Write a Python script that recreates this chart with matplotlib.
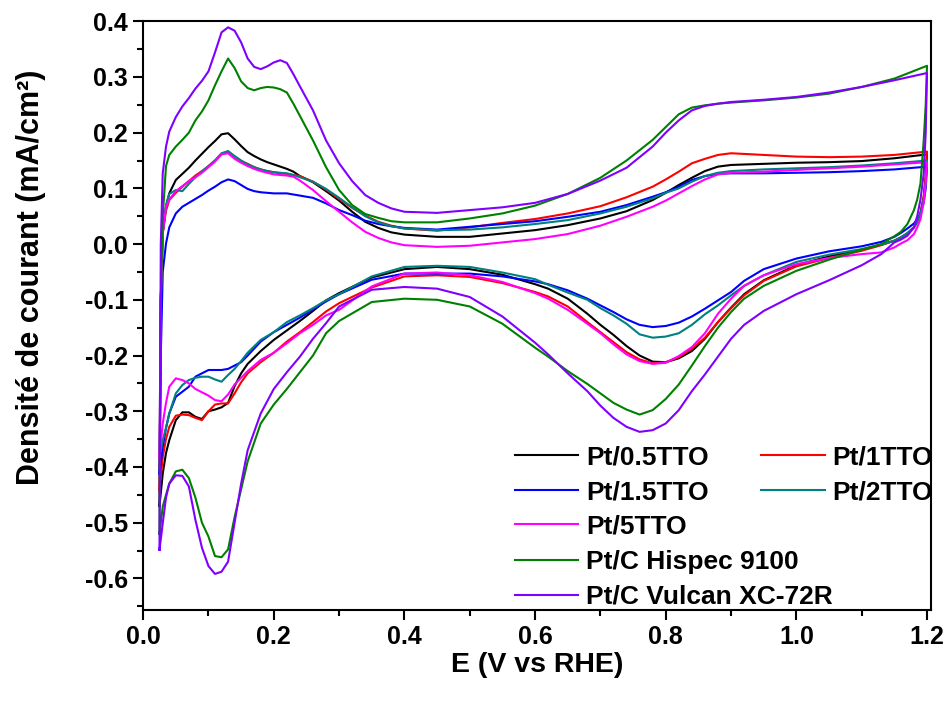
import matplotlib
matplotlib.use("Agg")
import matplotlib.pyplot as plt
import matplotlib.ticker as tkr

plt.rcParams["font.family"] = ["Liberation Sans", "DejaVu Sans"]
plt.rcParams["font.weight"] = "bold"

# DATA

# anodic sweep potentials (V vs RHE)
E_FWD = [0.025, 0.027, 0.030, 0.035, 0.040, 0.050, 0.060, 0.070, 0.080, 0.090,
         0.100, 0.110, 0.120, 0.130, 0.140, 0.150, 0.160, 0.170, 0.180, 0.190,
         0.200, 0.210, 0.220, 0.230, 0.240, 0.260, 0.280, 0.300, 0.320, 0.340,
         0.360, 0.380, 0.400, 0.450, 0.500, 0.550, 0.600, 0.650, 0.700, 0.740,
         0.780, 0.800, 0.820, 0.840, 0.860, 0.880, 0.900, 0.950, 1.000, 1.050,
         1.100, 1.150, 1.200]

# cathodic sweep potentials
E_REV = [1.200, 1.198, 1.195, 1.190, 1.185, 1.180, 1.170, 1.160, 1.150, 1.130,
         1.100, 1.050, 1.000, 0.950, 0.920, 0.900, 0.880, 0.860, 0.840, 0.820,
         0.800, 0.780, 0.760, 0.740, 0.720, 0.700, 0.680, 0.650, 0.620, 0.600,
         0.550, 0.500, 0.450, 0.400, 0.350, 0.300, 0.280, 0.260, 0.240, 0.220,
         0.200, 0.180, 0.160, 0.150, 0.140, 0.130, 0.120, 0.110, 0.100, 0.090,
         0.080, 0.070, 0.060, 0.050, 0.040, 0.035, 0.030, 0.025]

labels = ["Pt/0.5TTO", "Pt/1TTO", "Pt/1.5TTO", "Pt/2TTO", "Pt/5TTO",
          "Pt/C Hispec 9100", "Pt/C Vulcan XC-72R"]

j_fwd_05 = [-0.470, -0.100, 0.020, 0.067, 0.091, 0.115, 0.126, 0.137, 0.150, 0.162,
            0.174, 0.185, 0.197, 0.199, 0.188, 0.176, 0.165, 0.158, 0.152, 0.147,
            0.143, 0.139, 0.135, 0.130, 0.122, 0.111, 0.095, 0.078, 0.058, 0.040,
            0.029, 0.021, 0.017, 0.013, 0.013, 0.019, 0.025, 0.034, 0.046, 0.059,
            0.079, 0.092, 0.106, 0.119, 0.131, 0.139, 0.142, 0.144, 0.146, 0.147,
            0.149, 0.154, 0.161]
j_rev_05 = [0.161, 0.120, 0.085, 0.055, 0.040, 0.030, 0.019, 0.012, 0.006, -0.001,
            -0.010, -0.022, -0.038, -0.065, -0.090, -0.114, -0.140, -0.170, -0.192, -0.205,
            -0.212, -0.211, -0.200, -0.183, -0.163, -0.145, -0.125, -0.098, -0.080, -0.072,
            -0.055, -0.045, -0.041, -0.045, -0.060, -0.088, -0.101, -0.120, -0.138, -0.155,
            -0.172, -0.192, -0.215, -0.232, -0.255, -0.285, -0.293, -0.297, -0.300, -0.314,
            -0.310, -0.302, -0.302, -0.316, -0.352, -0.375, -0.412, -0.470]

j_fwd_1 = [-0.442, -0.100, 0.020, 0.060, 0.079, 0.092, 0.103, 0.113, 0.123, 0.131,
           0.140, 0.150, 0.162, 0.165, 0.157, 0.149, 0.144, 0.138, 0.134, 0.131,
           0.129, 0.127, 0.126, 0.124, 0.122, 0.112, 0.098, 0.081, 0.065, 0.051,
           0.040, 0.033, 0.028, 0.024, 0.030, 0.038, 0.045, 0.055, 0.068, 0.084,
           0.103, 0.116, 0.130, 0.145, 0.153, 0.160, 0.163, 0.160, 0.157, 0.156,
           0.157, 0.160, 0.166]
j_rev_1 = [0.166, 0.120, 0.085, 0.055, 0.040, 0.030, 0.019, 0.012, 0.006, -0.002,
           -0.012, -0.025, -0.040, -0.066, -0.092, -0.115, -0.140, -0.168, -0.188, -0.203,
           -0.212, -0.214, -0.207, -0.194, -0.176, -0.158, -0.140, -0.112, -0.094, -0.086,
           -0.070, -0.059, -0.056, -0.058, -0.078, -0.106, -0.121, -0.140, -0.158, -0.175,
           -0.195, -0.212, -0.232, -0.248, -0.268, -0.286, -0.286, -0.288, -0.300, -0.316,
           -0.312, -0.307, -0.306, -0.308, -0.328, -0.350, -0.382, -0.442]

j_fwd_15 = [-0.412, -0.200, -0.050, 0.001, 0.030, 0.055, 0.067, 0.074, 0.081, 0.088,
            0.096, 0.103, 0.111, 0.116, 0.113, 0.106, 0.099, 0.095, 0.093, 0.092,
            0.091, 0.091, 0.091, 0.089, 0.087, 0.083, 0.073, 0.061, 0.052, 0.042,
            0.036, 0.032, 0.029, 0.026, 0.031, 0.036, 0.041, 0.049, 0.058, 0.070,
            0.085, 0.093, 0.103, 0.115, 0.122, 0.126, 0.127, 0.127, 0.128, 0.129,
            0.131, 0.134, 0.139]
j_rev_15 = [0.139, 0.100, 0.075, 0.055, 0.045, 0.037, 0.028, 0.020, 0.013, 0.004,
            -0.004, -0.013, -0.026, -0.045, -0.066, -0.086, -0.101, -0.116, -0.130, -0.141,
            -0.147, -0.149, -0.145, -0.135, -0.122, -0.110, -0.098, -0.083, -0.072, -0.067,
            -0.058, -0.053, -0.053, -0.053, -0.064, -0.090, -0.103, -0.117, -0.132, -0.145,
            -0.158, -0.175, -0.200, -0.212, -0.218, -0.224, -0.226, -0.226, -0.226, -0.232,
            -0.238, -0.256, -0.265, -0.274, -0.304, -0.330, -0.364, -0.412]

j_fwd_2 = [-0.382, -0.100, 0.020, 0.070, 0.090, 0.097, 0.095, 0.108, 0.120, 0.130,
           0.140, 0.150, 0.163, 0.167, 0.158, 0.150, 0.143, 0.138, 0.134, 0.131,
           0.129, 0.128, 0.127, 0.124, 0.120, 0.112, 0.099, 0.083, 0.066, 0.050,
           0.039, 0.032, 0.028, 0.025, 0.026, 0.030, 0.036, 0.043, 0.055, 0.067,
           0.082, 0.092, 0.100, 0.112, 0.122, 0.128, 0.131, 0.134, 0.136, 0.138,
           0.141, 0.145, 0.150]
j_rev_2 = [0.150, 0.110, 0.080, 0.055, 0.040, 0.030, 0.020, 0.012, 0.006, -0.001,
           -0.009, -0.019, -0.032, -0.056, -0.075, -0.092, -0.110, -0.126, -0.145, -0.160,
           -0.166, -0.168, -0.162, -0.143, -0.128, -0.115, -0.100, -0.087, -0.073, -0.063,
           -0.051, -0.041, -0.039, -0.041, -0.058, -0.090, -0.101, -0.115, -0.128, -0.140,
           -0.158, -0.172, -0.195, -0.210, -0.224, -0.235, -0.247, -0.243, -0.238, -0.238,
           -0.240, -0.244, -0.253, -0.268, -0.304, -0.330, -0.352, -0.382]

j_fwd_5 = [-0.382, -0.100, 0.020, 0.067, 0.080, 0.095, 0.104, 0.113, 0.120, 0.128,
           0.138, 0.148, 0.161, 0.163, 0.153, 0.146, 0.140, 0.135, 0.131, 0.128,
           0.125, 0.124, 0.123, 0.121, 0.114, 0.097, 0.077, 0.058, 0.039, 0.022,
           0.011, 0.003, -0.002, -0.005, -0.003, 0.003, 0.009, 0.018, 0.033, 0.049,
           0.067, 0.078, 0.091, 0.104, 0.116, 0.125, 0.128, 0.130, 0.133, 0.136,
           0.139, 0.143, 0.147]
j_rev_5 = [0.147, 0.110, 0.075, 0.045, 0.030, 0.018, 0.007, 0.001, -0.006, -0.015,
           -0.018, -0.025, -0.036, -0.056, -0.075, -0.098, -0.125, -0.160, -0.185, -0.201,
           -0.213, -0.215, -0.210, -0.198, -0.180, -0.160, -0.143, -0.118, -0.098, -0.088,
           -0.068, -0.056, -0.051, -0.053, -0.076, -0.118, -0.128, -0.145, -0.160, -0.178,
           -0.195, -0.208, -0.228, -0.240, -0.252, -0.270, -0.282, -0.280, -0.272, -0.266,
           -0.260, -0.250, -0.244, -0.241, -0.256, -0.285, -0.322, -0.382]

j_fwd_hispec = [-0.520, -0.100, 0.050, 0.140, 0.160, 0.175, 0.187, 0.200, 0.222, 0.238,
                0.258, 0.285, 0.310, 0.333, 0.316, 0.292, 0.280, 0.276, 0.280, 0.282,
                0.281, 0.278, 0.272, 0.252, 0.230, 0.186, 0.138, 0.097, 0.070, 0.054,
                0.047, 0.041, 0.039, 0.039, 0.046, 0.055, 0.069, 0.090, 0.119, 0.150,
                0.187, 0.210, 0.233, 0.245, 0.249, 0.252, 0.254, 0.258, 0.263, 0.270,
                0.282, 0.297, 0.320]
j_rev_hispec = [0.320, 0.250, 0.187, 0.109, 0.080, 0.061, 0.036, 0.022, 0.014, 0.000,
                -0.010, -0.028, -0.048, -0.075, -0.098, -0.122, -0.150, -0.183, -0.218, -0.252,
                -0.278, -0.298, -0.306, -0.297, -0.285, -0.268, -0.251, -0.228, -0.202, -0.186,
                -0.143, -0.112, -0.100, -0.098, -0.104, -0.138, -0.160, -0.200, -0.230, -0.260,
                -0.288, -0.322, -0.390, -0.440, -0.490, -0.548, -0.562, -0.560, -0.525, -0.500,
                -0.455, -0.420, -0.405, -0.408, -0.430, -0.450, -0.471, -0.520]

j_fwd_vulcan = [-0.549, 0.000, 0.127, 0.175, 0.202, 0.228, 0.247, 0.262, 0.279, 0.293,
                0.310, 0.344, 0.380, 0.389, 0.383, 0.362, 0.333, 0.318, 0.314, 0.319,
                0.326, 0.330, 0.325, 0.305, 0.283, 0.240, 0.186, 0.145, 0.113, 0.088,
                0.074, 0.064, 0.058, 0.056, 0.061, 0.066, 0.074, 0.090, 0.114, 0.137,
                0.175, 0.200, 0.222, 0.240, 0.248, 0.252, 0.255, 0.259, 0.264, 0.272,
                0.282, 0.294, 0.307]
j_rev_vulcan = [0.307, 0.200, 0.127, 0.080, 0.050, 0.030, 0.015, 0.008, 0.003, -0.018,
                -0.038, -0.065, -0.090, -0.120, -0.145, -0.170, -0.202, -0.234, -0.264, -0.298,
                -0.322, -0.334, -0.337, -0.328, -0.312, -0.290, -0.264, -0.232, -0.198, -0.177,
                -0.130, -0.095, -0.080, -0.077, -0.082, -0.112, -0.142, -0.170, -0.202, -0.230,
                -0.260, -0.304, -0.370, -0.430, -0.500, -0.570, -0.588, -0.592, -0.578, -0.545,
                -0.495, -0.435, -0.416, -0.415, -0.430, -0.455, -0.501, -0.549]

j_fwd = [j_fwd_05, j_fwd_1, j_fwd_15, j_fwd_2, j_fwd_5, j_fwd_hispec, j_fwd_vulcan]
j_rev = [j_rev_05, j_rev_1, j_rev_15, j_rev_2, j_rev_5, j_rev_hispec, j_rev_vulcan]
colors = ["black", "#FF0000", "#0000FF", "#008080", "#FF00FF", "#008000", "#8000FF"]

# FIGURE

figure = plt.figure(figsize=(9.48, 7.07), dpi=100)
axis = figure.add_axes([0.151, 0.137, 0.831, 0.833])

handles = []
for jf, jr, c, lab in zip(j_fwd, j_rev, colors, labels):
    line, = axis.plot(E_FWD + E_REV, jf + jr, color=c, linewidth=1.5, label=lab)
    handles.append(line)

# AXES

axis.set_xlim(0, 1.206)
axis.set_ylim(-0.657, 0.4)
axis.xaxis.set_major_locator(tkr.MultipleLocator(0.2))
axis.xaxis.set_minor_locator(tkr.MultipleLocator(0.1))
axis.yaxis.set_major_locator(tkr.MultipleLocator(0.1))
axis.yaxis.set_minor_locator(tkr.MultipleLocator(0.05))
axis.xaxis.set_major_formatter(tkr.FormatStrFormatter("%.1f"))
axis.yaxis.set_major_formatter(tkr.FormatStrFormatter("%.1f"))

axis.tick_params(which="major", direction="out", length=7, width=1.5,
                 labelsize=18, pad=4)
axis.tick_params(which="minor", direction="out", length=4, width=1.5)
for sp in axis.spines.values():
    sp.set_linewidth(1.5)

for lbl in axis.get_xticklabels() + axis.get_yticklabels():
    lbl.set_fontweight("bold")

axis.set_xlabel("E (V vs RHE)", fontsize=20.5, fontweight="bold", labelpad=2)
axis.set_ylabel("Densité de courant (mA/cm²)", fontsize=22, fontweight="bold")
axis.yaxis.set_label_coords(-0.123, 0.565)

# LEGEND

leg_props = dict(frameon=False, prop={"size": 19, "weight": "bold"},
                 handlelength=2.4, handletextpad=0.3, borderpad=0,
                 borderaxespad=0, labelspacing=0.42,
                 bbox_transform=figure.transFigure, loc="upper left")

top_legend = axis.legend([handles[0], handles[2], handles[1], handles[3]],
                         [labels[0], labels[2], labels[1], labels[3]],
                         ncol=2, columnspacing=2.0,
                         bbox_to_anchor=(0.543, 0.370), **leg_props)
axis.add_artist(top_legend)

axis.legend(handles[4:], labels[4:], ncol=1,
            bbox_to_anchor=(0.543, 0.272), **leg_props)

figure.savefig("out.png", dpi=100)
